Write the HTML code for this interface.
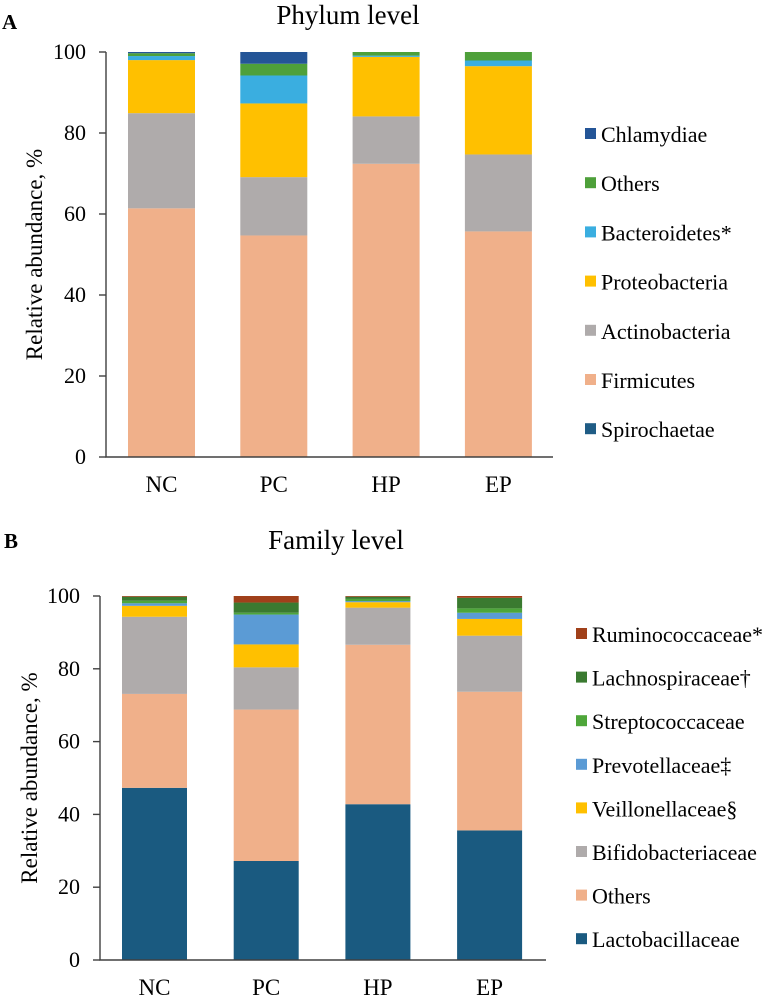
<!DOCTYPE html>
<html><head><meta charset="utf-8"><style>
html,body{margin:0;padding:0;background:#fff;}
svg{display:block;font-family:"Liberation Serif",serif;}
</style></head><body>
<svg id="chart" width="771" height="997" viewBox="0 0 771 997"></svg>
<script>
const groups = ["NC","PC","HP","EP"];
const yTicks = [0,20,40,60,80,100];
const phylumNames = ["Spirochaetae","Firmicutes","Actinobacteria","Proteobacteria","Bacteroidetes*","Others","Chlamydiae"];
const phylumColors = ["#1F5C85","#F0B08A","#AFABAB","#FFC000","#3AAEE0","#4EA03A","#245597"];
const phylumSpiro = [0.1,0,0,0];
const phylumFirm = [61.3,54.7,72.4,55.7];
const phylumActino = [23.5,14.4,11.7,19.0];
const phylumProteo = [13.1,18.2,14.7,21.8];
const phylumBact = [1.0,6.9,0.3,1.4];
const phylumOthers = [0.7,2.9,0.9,2.1];
const phylumChlam = [0.3,2.9,0,0];
const familyNames = ["Lactobacillaceae","Others","Bifidobacteriaceae","Veillonellaceae§","Prevotellaceae‡","Streptococcaceae","Lachnospiraceae†","Ruminococcaceae*"];
const familyColors = ["#1A5A80","#F0B08A","#AFABAB","#FFC000","#5B9BD5","#4EA63A","#3A7A30","#A0401A"];
const famLacto = [47.3,27.2,42.8,35.6];
const famOthers = [25.8,41.6,43.8,38.1];
const famBifido = [21.2,11.6,10.2,15.4];
const famVeill = [3.0,6.3,1.5,4.6];
const famPrevo = [0.7,8.2,0.3,1.7];
const famStrep = [0.7,0.5,0.6,1.2];
const famLachno = [1.1,2.8,0.6,2.9];
const famRumino = [0.2,1.8,0.2,0.5];

const svg = document.getElementById('chart');
const NS = "http://www.w3.org/2000/svg";
function mk(tag, attrs, parent){const e=document.createElementNS(NS,tag);for(const k in attrs)e.setAttribute(k,attrs[k]);(parent||svg).appendChild(e);return e;}

function drawChart(cfg){
  const g = mk('g',{});
  
  
  const y = v => cfg.y0 - (v/100)*(cfg.y0-cfg.y100);
  const xc = i => cfg.barX0 + cfg.barW/2 + i*cfg.step;
  const L = mk('text',{x:cfg.letterX,y:cfg.letterY,'font-size':21,'font-weight':'bold'},g);
  L.textContent = cfg.letter;
  
  
  const T = mk('text',{x:cfg.titleX,y:cfg.titleY,'font-size':27,'text-anchor':'middle'},g);
  T.textContent = cfg.title;
  
  
  cfg.series.forEach((arr,si)=>{
    arr.forEach((v,i)=>{
      let base = 0; for(let k=0;k<si;k++) base += cfg.series[k][i];
      if(v<=0) return;
      const r = mk('rect',{x:xc(i)-cfg.barW/2,y:y(base+v),width:cfg.barW,height:y(base)-y(base+v),fill:cfg.colors[si]},g);
      
      
    });
  });
  const ax = mk('path',{d:`M${cfg.axL} ${cfg.y100} V${cfg.y0} H${cfg.axR}`,stroke:'#404040','stroke-width':1.4,fill:'none'},g);
  
  
  yTicks.forEach(t=>{
    mk('line',{x1:cfg.axL-7,x2:cfg.axL,y1:y(t),y2:y(t),stroke:'#404040','stroke-width':1.4},g);
    const tl = mk('text',{x:cfg.axL-20,y:y(t)+7,'font-size':22,'text-anchor':'end'},g);
    tl.textContent = t;
    
    
  });
  groups.forEach((gname,i)=>{
    const xl = mk('text',{x:xc(i),y:cfg.xLabelY,'font-size':23,'text-anchor':'middle'},g);
    xl.textContent = gname;
    
    
  });
  const yt = mk('text',{x:0,y:0,'font-size':23,'text-anchor':'middle',transform:`translate(${cfg.yTitleX},${(cfg.y0+cfg.y100)/2}) rotate(-90)`},g);
  yt.textContent = 'Relative abundance, %';
  
  
  const n = cfg.names.length;
  for(let j=0;j<n;j++){
    const si = n-1-j;
    const ly = cfg.legY0 + j*cfg.legStep;
    const sq = mk('rect',{x:cfg.legX,y:ly-6,width:11,height:11,fill:cfg.colors[si]},g);
    
    
    const lt = mk('text',{x:cfg.legX+16,y:ly+8,'font-size':22},g);
    lt.textContent = cfg.names[si];
    
    
  }
}

drawChart({id:'phylum',letter:'A',letterX:2,letterY:29,title:'Phylum level',titleX:348,titleY:24,
  y0:457,y100:52,axL:106,axR:553,barX0:128,barW:67,step:112.3,xLabelY:492,yTitleX:42,
  series:[phylumSpiro,phylumFirm,phylumActino,phylumProteo,phylumBact,phylumOthers,phylumChlam],
  colors:phylumColors,names:phylumNames,legX:585,legY0:134,legStep:49.2});
drawChart({id:'family',letter:'B',letterX:4,letterY:548,title:'Family level',titleX:336,titleY:549,
  y0:960,y100:596,axL:100,axR:546,barX0:122,barW:65,step:111.7,xLabelY:995,yTitleX:37,
  series:[famLacto,famOthers,famBifido,famVeill,famPrevo,famStrep,famLachno,famRumino],
  colors:familyColors,names:familyNames,legX:576,legY0:634,legStep:43.6});
</script>
</body></html>
